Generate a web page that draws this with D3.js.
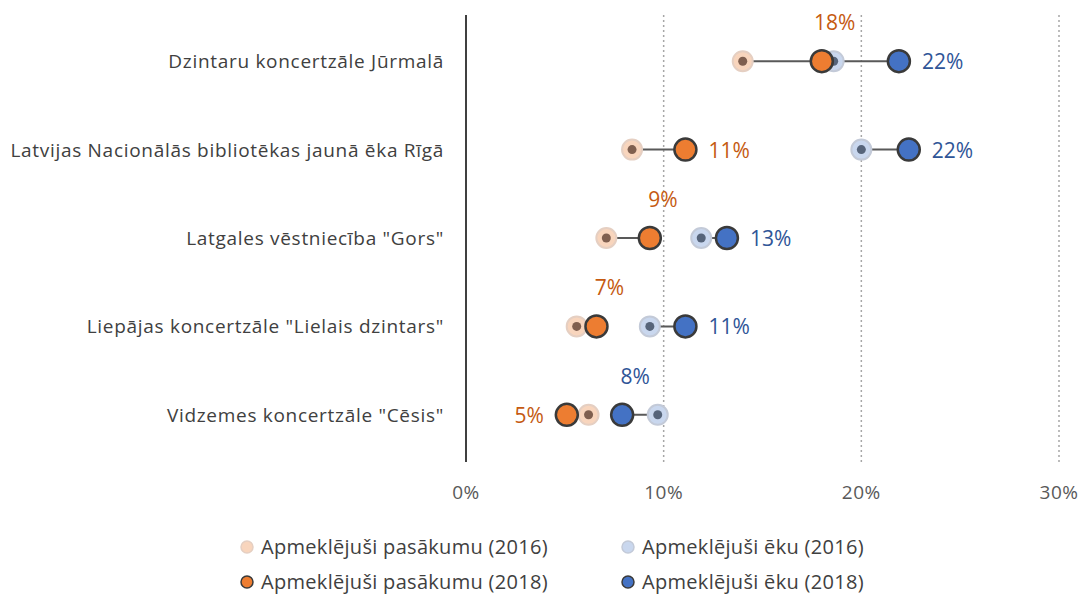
<!DOCTYPE html>
<html>
<head>
<meta charset="utf-8">
<script src="https://cdn.jsdelivr.net/npm/d3@7"></script>
<style>
  body { margin: 0; background: #fff; }
  text { font-family: "Open Sans", "Noto Sans", sans-serif; }
</style>
</head>
<body>
<div id="chart"></div>
<script>
// Data
const categories = [
    "Dzintaru koncertzāle Jūrmalā",
    "Latvijas Nacionālās bibliotēkas jaunā ēka Rīgā",
    "Latgales vēstniecība \"Gors\"",
    "Liepājas koncertzāle \"Lielais dzintars\"",
    "Vidzemes koncertzāle \"Cēsis\""
];
const event2016 = [14.0, 8.4, 7.1, 5.6, 6.2];
const event2018 = [18.0, 11.1, 9.3, 6.6, 5.1];
const building2016 = [18.6, 20.0, 11.9, 9.3, 9.7];
const building2018 = [21.9, 22.4, 13.2, 11.1, 7.9];
const eventLabels = ["18%", "11%", "9%", "7%", "5%"];
const buildingLabels = ["22%", "22%", "13%", "11%", "8%"];
const xTicks = [0, 10, 20, 30];
const legendNames = [
    "Apmeklējuši pasākumu (2016)", "Apmeklējuši ēku (2016)",
    "Apmeklējuši pasākumu (2018)", "Apmeklējuši ēku (2018)"
];

// where each 2018 label sits
const eventPlace = ["above", "right", "above", "above", "left"];
const buildingPlace = ["right", "right", "right", "right", "above"];

const width = 1081, height = 594;
const svg = d3.select("#chart").append("svg")
    .attr("width", width)
    .attr("height", height);

const x = d3.scaleLinear().domain([0, 30]).range([466, 1059]);
const y = d3.scaleBand().domain(categories).range([17, 459]);
const cy = d => y(d) + y.bandwidth() / 2;

// dotted gridlines
svg.selectAll("line.grid")
    .data(xTicks.slice(1))
    .enter().append("line")
    .attr("x1", d => x(d)).attr("x2", d => x(d))
    .attr("y1", 15).attr("y2", 462)
    .attr("stroke", "#a6a6a6")
    .attr("stroke-width", 1.5)
    .attr("stroke-dasharray", "2,3");

// vertical axis line
svg.append("line")
    .attr("x1", x(0)).attr("x2", x(0))
    .attr("y1", 15).attr("y2", 462)
    .attr("stroke", "#404040")
    .attr("stroke-width", 2);

// tick labels
svg.selectAll("text.tick")
    .data(xTicks)
    .enter().append("text")
    .attr("x", d => x(d))
    .attr("y", 499)
    .attr("text-anchor", "middle")
    .attr("font-size", "19px")
    .attr("letter-spacing", "0.5px")
    .attr("fill", "#595959")
    .text(d => d + "%");

// category labels
svg.selectAll("text.cat")
    .data(categories)
    .enter().append("text")
    .attr("x", 444)
    .attr("y", d => cy(d) + 7)
    .attr("text-anchor", "end")
    .attr("font-size", "19px")
    .attr("letter-spacing", "0.7px")
    .attr("fill", "#404040")
    .text(d => d);

// connecting lines
function drawLines(a, b) {
    svg.append("g").selectAll("line")
        .data(categories)
        .enter().append("line")
        .attr("x1", (d, i) => x(a[i]))
        .attr("x2", (d, i) => x(b[i]))
        .attr("y1", d => cy(d))
        .attr("y2", d => cy(d))
        .attr("stroke", "#595959")
        .attr("stroke-width", 2);
}
drawLines(event2016, event2018);
drawLines(building2016, building2018);

// 2016 markers: faded circle with small dark dot
function drawOld(vals, fill, stroke, dot) {
    const g = svg.append("g");
    g.selectAll("circle.o")
        .data(categories)
        .enter().append("circle")
        .attr("cx", (d, i) => x(vals[i]))
        .attr("cy", d => cy(d))
        .attr("r", 10)
        .attr("fill", fill)
        .attr("stroke", stroke)
        .attr("stroke-width", 2);
    g.selectAll("circle.d")
        .data(categories)
        .enter().append("circle")
        .attr("cx", (d, i) => x(vals[i]))
        .attr("cy", d => cy(d))
        .attr("r", 4.5)
        .attr("fill", dot);
}
drawOld(event2016, "#f8d5bd", "#e5cfc2", "#7f5f4f");
drawOld(building2016, "#c9d7ee", "#c3cad8", "#56647a");

// 2018 markers
function drawNew(vals, fill) {
    svg.append("g").selectAll("circle")
        .data(categories)
        .enter().append("circle")
        .attr("cx", (d, i) => x(vals[i]))
        .attr("cy", d => cy(d))
        .attr("r", 11)
        .attr("fill", fill)
        .attr("stroke", "#3a3a3a")
        .attr("stroke-width", 2.5);
}
drawNew(event2018, "#ed7d31");
drawNew(building2018, "#4472c4");

// value labels
function drawLabels(vals, labels, place, color) {
    svg.append("g").selectAll("text")
        .data(categories)
        .enter().append("text")
        .attr("x", (d, i) => {
            if (place[i] === "right") return x(vals[i]) + 23;
            if (place[i] === "left") return x(vals[i]) - 23;
            return x(vals[i]) + 13;
        })
        .attr("y", (d, i) => place[i] === "above" ? cy(d) - 31 : cy(d) + 8)
        .attr("text-anchor", (d, i) => place[i] === "right" ? "start" : place[i] === "left" ? "end" : "middle")
        .attr("font-size", "21px")
        .attr("fill", color)
        .text((d, i) => labels[i]);
}
drawLabels(event2018, eventLabels, eventPlace, "#c55a11");
drawLabels(building2018, buildingLabels, buildingPlace, "#2f5597");

// legend
const legendStyles = [
    { fill: "#f8d5bd", stroke: "#e5cfc2" },
    { fill: "#c9d7ee", stroke: "#c3cad8" },
    { fill: "#ed7d31", stroke: "#3a3a3a" },
    { fill: "#4472c4", stroke: "#3a3a3a" }
];
const legend = svg.append("g").selectAll("g")
    .data(legendNames)
    .enter().append("g")
    .attr("transform", (d, i) => `translate(${i % 2 === 0 ? 247 : 628},${i < 2 ? 547 : 582})`);
legend.append("circle")
    .attr("r", 6)
    .attr("fill", (d, i) => legendStyles[i].fill)
    .attr("stroke", (d, i) => legendStyles[i].stroke)
    .attr("stroke-width", 1.5);
legend.append("text")
    .attr("x", 14)
    .attr("y", 7)
    .attr("font-size", "20px")
    .attr("letter-spacing", "0.3px")
    .attr("fill", "#404040")
    .text(d => d);
</script>
</body>
</html>
